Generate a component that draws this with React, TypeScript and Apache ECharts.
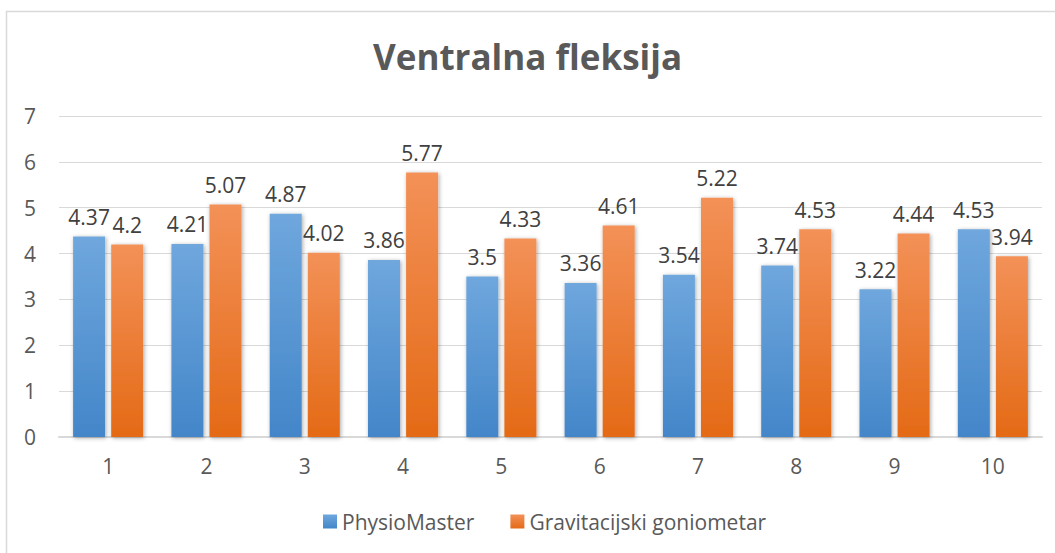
import React, { useEffect, useRef } from "react";
import * as echarts from "echarts";

const categories = ["1", "2", "3", "4", "5", "6", "7", "8", "9", "10"];
const physioMaster = [4.37, 4.21, 4.87, 3.86, 3.5, 3.36, 3.54, 3.74, 3.22, 4.53];
const gravitacijski = [4.2, 5.07, 4.02, 5.77, 4.33, 4.61, 5.22, 4.53, 4.44, 3.94];
const yTicks = [0, 1, 2, 3, 4, 5, 6, 7];

const FONT = "'Open Sans', sans-serif";

export default function App() {
  const ref = useRef<HTMLDivElement>(null);
  useEffect(() => {
    document.body.style.margin = "0";
    if (!ref.current) return;
    const chart = echarts.init(ref.current, null, { renderer: "svg" });
    const blue = new echarts.graphic.LinearGradient(0, 0, 0, 1, [
      { offset: 0, color: "#6fa7dd" },
      { offset: 1, color: "#4386c9" },
    ]);
    const orange = new echarts.graphic.LinearGradient(0, 0, 0, 1, [
      { offset: 0, color: "#f39158" },
      { offset: 1, color: "#e46a16" },
    ]);
    const shadow = {
      shadowColor: "rgba(0,0,0,0.35)",
      shadowBlur: 4,
      shadowOffsetX: 1,
      shadowOffsetY: 1,
    };
    const label = {
      show: true,
      position: "top" as const,
      distance: 9,
      color: "#404040",
      fontSize: 21,
      fontFamily: FONT,
    };
    chart.setOption({
      animation: false,
      backgroundColor: "#ffffff",
      textStyle: { fontFamily: FONT },
      graphic: [
        {
          type: "rect",
          shape: { x: 6.5, y: 11.5, width: 1060, height: 560 },
          style: { fill: "none", stroke: "#d9d9d9", lineWidth: 1.5 },
          silent: true,
        },
      ],
      title: {
        text: "Ventralna fleksija",
        left: "center",
        top: 34,
        textStyle: {
          fontFamily: FONT,
          fontWeight: "bold",
          fontSize: 35,
          color: "#595959",
        },
      },
      legend: {
        bottom: 16,
        left: 318,
        itemWidth: 14,
        itemHeight: 14,
        itemGap: 36,
        icon: "rect",
        textStyle: { fontFamily: FONT, fontSize: 21, color: "#595959" },
        data: ["PhysioMaster", "Gravitacijski goniometar"],
      },
      grid: { left: 59, right: 13, top: 116, bottom: 116, containLabel: false },
      xAxis: {
        type: "category",
        data: categories,
        axisTick: { show: false },
        axisLine: { show: true, lineStyle: { color: "#d9d9d9", width: 2 } },
        axisLabel: { color: "#595959", fontSize: 21, fontFamily: FONT, margin: 18 },
      },
      yAxis: {
        type: "value",
        min: yTicks[0],
        max: yTicks[yTicks.length - 1],
        interval: 1,
        axisLine: { show: false },
        axisTick: { show: false },
        splitLine: { lineStyle: { color: "#d9d9d9", width: 1 } },
        axisLabel: { color: "#595959", fontSize: 21, fontFamily: FONT, margin: 23 },
      },
      series: [
        {
          name: "PhysioMaster",
          type: "bar",
          data: physioMaster,
          barWidth: 32,
          barGap: "19%",
          itemStyle: { color: blue, ...shadow },
          label,
        },
        {
          name: "Gravitacijski goniometar",
          type: "bar",
          data: gravitacijski,
          barWidth: 32,
          barGap: "19%",
          itemStyle: { color: orange, ...shadow },
          label,
        },
      ],
    });
    return () => chart.dispose();
  }, []);
  return <div ref={ref} style={{ width: 1055, height: 553 }} />;
}
